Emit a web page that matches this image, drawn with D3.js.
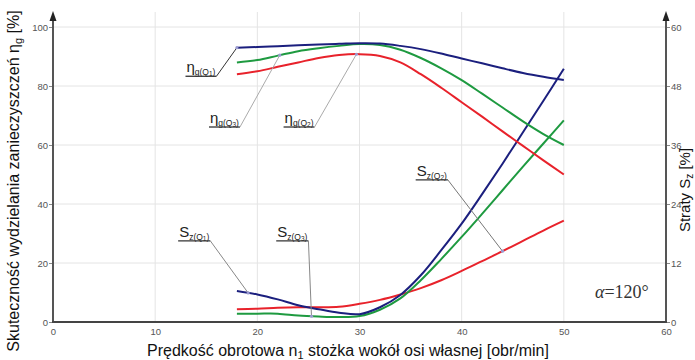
<!DOCTYPE html>
<html><head><meta charset="utf-8">
<script src="https://cdn.jsdelivr.net/npm/d3@7"></script>
<style>
body{margin:0;background:#fff}
svg{display:block}
</style></head>
<body>
<svg id="c" width="695" height="360"></svg>
<script>
// ---- data ----
const xTicks = [0,10,20,30,40,50,60];
const leftTicks = [0,20,40,60,80,100];
const rightTicks = [0,12,24,36,48,60];
const rpm = [18,20,22,24,26,28,30,32,34,36,38,40,42,44,46,48,50];
const etaQ1 = [93,93.2,93.5,93.8,94.1,94.3,94.5,94.4,93.6,92.5,91,89.3,87.7,86,84.4,83.1,82];
const etaQ2 = [84,85,86.5,88,89.5,90.5,90.8,90.2,88,84,79.4,74.5,69.6,64.6,59.7,54.8,50];
const etaQ3 = [88,88.8,90.3,91.8,92.8,93.6,94.2,93.9,92.3,89.5,86,82,77.4,72.7,68,63.7,60];
const sQ1 = [6.3,5.6,4.6,3.4,2.6,1.9,1.6,3.0,5.5,9.5,14.6,20,26,32.2,38.6,45,51.5];
const sQ2 = [2.6,2.7,2.9,3.0,3.0,3.1,3.7,4.5,5.6,6.9,8.5,10.4,12.4,14.4,16.5,18.6,20.6];
const sQ3 = [1.7,1.7,1.7,1.3,1.1,1.0,1.2,2.5,4.8,8.5,12.8,17.3,22,26.8,31.6,36.3,41];
const colors = {Q1:"#1b1f7e", Q2:"#e8222b", Q3:"#1e9a40"};

const svg = d3.select("#c");
const x = d3.scaleLinear().domain([0,60]).range([53,666]);
const yL = d3.scaleLinear().domain([0,100]).range([322,27]);
const yR = d3.scaleLinear().domain([0,60]).range([322,27]);

// grid
svg.append("g").selectAll("line").data(xTicks.slice(1,-1)).join("line")
  .attr("x1",d=>x(d)).attr("x2",d=>x(d)).attr("y1",12).attr("y2",322)
  .attr("stroke","#e4e4e4").attr("stroke-width",1);
svg.append("g").selectAll("line").data(leftTicks.slice(1)).join("line")
  .attr("x1",x(0)).attr("x2",x(60)).attr("y1",d=>yL(d)).attr("y2",d=>yL(d))
  .attr("stroke","#e4e4e4").attr("stroke-width",1);

const tickFont = "'Liberation Sans Narrow','Arial Narrow','Liberation Sans',sans-serif";
// axes
const axL = svg.append("g").attr("transform",`translate(${x(0)},0)`)
  .call(d3.axisLeft(yL).tickValues(leftTicks).tickSize(4).tickPadding(1));
const axR = svg.append("g").attr("transform",`translate(${x(60)},0)`)
  .call(d3.axisRight(yR).tickValues(rightTicks).tickSize(4).tickPadding(1));
const axB = svg.append("g").attr("transform",`translate(0,${yL(0)})`)
  .call(d3.axisBottom(x).tickValues(xTicks).tickSize(0).tickPadding(6));
[axL,axR,axB].forEach(a=>{
  a.select(".domain").remove();
  a.selectAll("line").attr("stroke","#888");
  a.selectAll("text").attr("font-family",tickFont).attr("font-size",9.5).attr("fill","#555");
});
// axis lines
svg.append("line").attr("x1",x(0)).attr("x2",x(0)).attr("y1",322).attr("y2",16).attr("stroke","#555").attr("stroke-width",2);
svg.append("line").attr("x1",x(60)).attr("x2",x(60)).attr("y1",322).attr("y2",16).attr("stroke","#555").attr("stroke-width",2);
svg.append("line").attr("x1",x(0)-1).attr("x2",x(60)+1).attr("y1",322).attr("y2",322).attr("stroke","#444").attr("stroke-width",2);
[x(0),x(60)].forEach(px=>{
  svg.append("path").attr("d",`M${px-3.5},21 L${px},11 L${px+3.5},21 Z`).attr("fill","#222");
});

// curves
const line = (ys, sc) => d3.line().x((d,i)=>x(rpm[i])).y(d=>sc(d)).curve(d3.curveCatmullRom.alpha(0.5))(ys);
const series = [
  {v:sQ2,s:yR,c:colors.Q2},{v:sQ3,s:yR,c:colors.Q3},{v:sQ1,s:yR,c:colors.Q1},
  {v:etaQ2,s:yL,c:colors.Q2},{v:etaQ3,s:yL,c:colors.Q3},{v:etaQ1,s:yL,c:colors.Q1}
];
series.forEach(o=>svg.append("path").attr("d",line(o.v,o.s)).attr("fill","none")
  .attr("stroke",o.c).attr("stroke-width",2));

// annotations
function interp(vals, xv){
  for(let i=0;i<rpm.length-1;i++){
    if(xv>=rpm[i] && xv<=rpm[i+1]){
      const t=(xv-rpm[i])/(rpm[i+1]-rpm[i]); return vals[i]+(vals[i+1]-vals[i])*t;
    }
  }
  return vals[0];
}
const notes = [
  {main:"η",sub:"g(Q",idx:"1",vals:etaQ1,sc:yL,px:18,lx:16.0,ly:83.3,lc:"#333"},
  {main:"η",sub:"g(Q",idx:"3",vals:etaQ3,sc:yL,px:22.2,lx:18.3,ly:66.1,lc:"#aaa"},
  {main:"η",sub:"g(Q",idx:"2",vals:etaQ2,sc:yL,px:29.7,lx:25.6,ly:66.1,lc:"#aaa"},
  {main:"S",sub:"z(Q",idx:"1",vals:sQ1,sc:yR,px:19.1,lx:15.4,ly:16.5,lc:"#888"},
  {main:"S",sub:"z(Q",idx:"3",vals:sQ3,sc:yR,px:25.3,lx:25.0,ly:16.5,lc:"#888"},
  {main:"S",sub:"z(Q",idx:"2",vals:sQ2,sc:yR,px:44,lx:38.65,ly:28.9,lc:"#777"}
];
const narrow = "'Liberation Sans Narrow','Arial Narrow',sans-serif";
notes.forEach(n=>{
  const ux=x(n.lx), uy=n.sc(n.ly);
  const t = svg.append("text").attr("x",ux-1).attr("y",uy-4).attr("text-anchor","end")
    .attr("font-family","'Liberation Sans',Arial,sans-serif").attr("fill","#222").attr("font-size",15);
  t.append("tspan").text(n.main);
  t.append("tspan").attr("font-family",narrow).attr("font-size",8.5).attr("dy",3).text(n.sub);
  t.append("tspan").attr("font-family",narrow).attr("font-size",6.5).attr("dy",1).text(n.idx);
  t.append("tspan").attr("font-family",narrow).attr("font-size",8.5).attr("dy",-1).text(")");
  const bb = t.node().getBBox();
  const ptx = x(n.px), pty = n.sc(interp(n.vals,n.px));
  svg.append("line").attr("x1",bb.x-1).attr("x2",ux).attr("y1",uy).attr("y2",uy)
    .attr("stroke","#333").attr("stroke-width",1.3);
  svg.append("line").attr("x1",ux).attr("y1",uy).attr("x2",ptx).attr("y2",pty)
    .attr("stroke",n.lc).attr("stroke-width",1);
  svg.append("circle").attr("cx",ptx).attr("cy",pty).attr("r",1.6).attr("fill","#9a9ad0");
});

// alpha label
svg.append("text").attr("x",595).attr("y",298).attr("font-family","'Liberation Serif','Times New Roman',serif")
  .attr("font-size",18).attr("fill","#333")
  .call(t=>{t.append("tspan").attr("font-style","italic").text("α");t.append("tspan").text("=120°");});

// titles
const tf = "'Liberation Sans',Arial,sans-serif";
svg.append("text").attr("x",348).attr("y",356).attr("text-anchor","middle")
  .attr("font-family",tf).attr("font-size",16).attr("fill","#111")
  .call(t=>{t.append("tspan").text("Prędkość obrotowa n");t.append("tspan").attr("font-size",11).attr("dy",3).text("1");
    t.append("tspan").attr("dy",-3).text(" stożka wokół osi własnej [obr/min]");});
svg.append("text").attr("transform","translate(19,181) rotate(-90)").attr("text-anchor","middle")
  .attr("font-family",tf).attr("font-size",16).attr("fill","#111")
  .call(t=>{t.append("tspan").text("Skuteczność wydzielania zanieczyszczeń η");t.append("tspan").attr("font-size",11).attr("dy",3).text("g");
    t.append("tspan").attr("dy",-3).text(" [%]");});
svg.append("text").attr("transform","translate(690,190) rotate(-90)").attr("text-anchor","middle")
  .attr("font-family",tf).attr("font-size",15).attr("fill","#111")
  .call(t=>{t.append("tspan").text("Straty S");t.append("tspan").attr("font-size",10).attr("dy",3).text("z");
    t.append("tspan").attr("dy",-3).text(" [%]");});
</script>
</body></html>
